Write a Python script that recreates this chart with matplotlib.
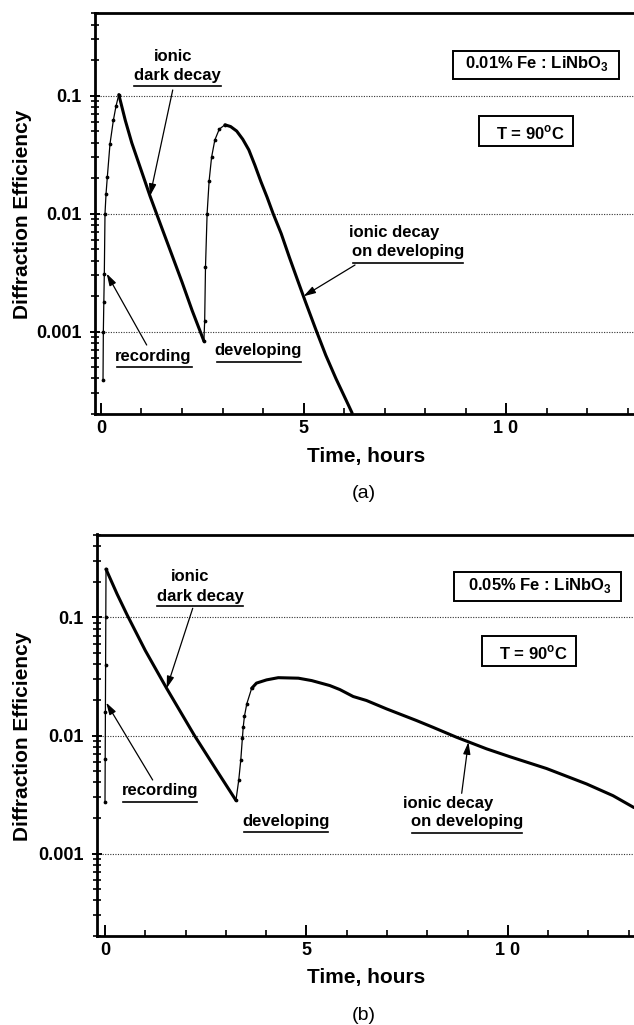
import matplotlib
matplotlib.use("Agg")
import matplotlib.pyplot as plt
from matplotlib.patches import Rectangle
from matplotlib.ticker import FixedLocator, LogLocator, NullFormatter

# ---- data (time in hours, diffraction efficiency) ----
# (a) 0.01% Fe : LiNbO3
rec_a_t = [0.05, 0.058, 0.07, 0.082, 0.099, 0.125, 0.156, 0.222, 0.305, 0.37, 0.44]
rec_a_eta = [3.9e-4, 1.0e-3, 1.78e-3, 3.09e-3, 1.0e-2, 1.48e-2, 2.04e-2, 3.89e-2, 6.17e-2, 8.13e-2, 0.102]

dark_a_t = [0.44, 0.6, 0.76, 1.0, 1.21, 1.5, 1.75, 2.0, 2.25, 2.54]
dark_a_eta = [0.102, 0.0617, 0.0398, 0.0229, 0.0141, 0.00759, 0.00447, 0.00263, 0.00151, 0.000832]

dev_a_t = [2.54, 2.56, 2.58, 2.62, 2.67, 2.73, 2.81, 2.92, 3.06]
dev_a_eta = [8.3e-4, 1.23e-3, 3.5e-3, 1.0e-2, 1.9e-2, 3.0e-2, 4.2e-2, 5.2e-2, 5.66e-2]

ion_a_t = [3.06, 3.2, 3.35, 3.5, 3.65, 3.8, 3.95, 4.1, 4.25, 4.45, 4.65, 4.85, 5.05,
           5.3, 5.55, 5.8, 6.05, 6.2]
ion_a_eta = [0.0566, 0.0547, 0.0501, 0.0427, 0.0347, 0.0257, 0.0186, 0.0138, 0.0100,
             0.00676, 0.00427, 0.00275, 0.00178, 0.00105, 0.00063, 0.00040, 0.000263, 0.000204]

# (b) 0.05% Fe : LiNbO3
rec_b_t = [0.0, 0.005, 0.01, 0.015, 0.02, 0.025]
rec_b_eta = [2.75e-3, 6.3e-3, 1.58e-2, 3.98e-2, 0.1, 0.257]

dark_b_t = [0.025, 0.3, 0.55, 1.0, 1.53, 2.22, 2.78, 3.25]
dark_b_eta = [0.257, 0.158, 0.105, 0.0525, 0.0251, 0.0100, 0.00501, 0.00282]

dev_b_t = [3.25, 3.32, 3.37, 3.41, 3.43, 3.46, 3.52, 3.64]
dev_b_eta = [2.82e-3, 4.2e-3, 6.2e-3, 9.5e-3, 1.17e-2, 1.45e-2, 1.86e-2, 2.51e-2]

ion_b_t = [3.64, 3.76, 4.01, 4.30, 4.80, 5.13, 5.58, 5.83, 6.16, 6.49, 6.99, 7.73, 8.15,
           8.72, 9.47, 10.05, 10.96, 11.95, 12.61, 13.13]
ion_b_eta = [0.0251, 0.0278, 0.0296, 0.0309, 0.0306, 0.0292, 0.0265, 0.0245, 0.0214, 0.0198,
             0.0168, 0.0134, 0.0117, 0.00968, 0.00771, 0.00661, 0.00525, 0.00389, 0.00309, 0.00245]

ytick_vals = [1e-3, 1e-2, 1e-1]
ytick_labels = ["0.001", "0.01", "0.1"]
xtick_vals = [0, 5, 10]
xtick_labels = ["0", "5", "1 0"]

plt.rcParams["font.family"] = ["Liberation Sans", "DejaVu Sans"]
plt.rcParams["font.weight"] = "bold"
plt.rcParams["mathtext.fontset"] = "custom"
plt.rcParams["mathtext.rm"] = "Liberation Sans:bold"
plt.rcParams["mathtext.bf"] = "Liberation Sans:bold"

W, H = 634, 1025
fig = plt.figure(figsize=(W / 100, H / 100), dpi=100)
ax_a = fig.add_axes([95 / W, 1 - 414 / H, 539 / W, 401.3 / H])
ax_b = fig.add_axes([96.7 / W, 1 - 936 / H, 537.3 / W, 401.5 / H])


def setup_axes(ax, xlim):
    ax.set_yscale("log")
    ax.set_xlim(*xlim)
    ax.set_ylim(2.0e-4, 0.505)
    ax.yaxis.set_major_locator(FixedLocator(ytick_vals))
    ax.set_yticklabels(ytick_labels)
    ax.yaxis.set_minor_locator(LogLocator(base=10, subs=range(2, 10)))
    ax.yaxis.set_minor_formatter(NullFormatter())
    ax.set_xticks(xtick_vals)
    ax.set_xticklabels(xtick_labels)
    ax.set_xticks(range(0, 14), minor=True)
    ax.tick_params(axis="y", which="major", direction="inout", length=7, width=1.4,
                   labelsize=13, pad=6, right=False)
    ax.tick_params(axis="y", which="minor", direction="inout", length=6, width=1.2, right=False)
    ax.tick_params(axis="x", which="major", direction="in", length=8, width=1.4,
                   labelsize=13, pad=4, top=False)
    ax.tick_params(axis="x", which="minor", direction="in", length=4, width=1.2, top=False)
    for lab in ax.get_xticklabels() + ax.get_yticklabels():
        lab.set_fontweight("bold")
    ax.spines["right"].set_visible(False)
    for s in ("left", "bottom", "top"):
        ax.spines[s].set_linewidth(2)
    ax.grid(True, which="major", axis="y", color="0.2", lw=0.8, ls=(0, (1, 1.3)))
    ax.grid(False, which="minor")
    ax.grid(False, axis="x")


def curve(ax, t, eta, thick):
    if thick:
        ax.plot(t, eta, color="k", lw=2.2, solid_capstyle="round",
                solid_joinstyle="round", zorder=3)
    else:
        ax.plot(t, eta, color="k", lw=0.9, marker="o", ms=1.7, zorder=3)


def label(ax, fx, fy, s, size=12):
    ax.text(fx, fy, s, transform=ax.transAxes, ha="center", va="center",
            fontsize=size, fontweight="bold", zorder=4)


def underline(ax, x0, x1, fy):
    ax.plot([x0, x1], [fy, fy], transform=ax.transAxes, color="k", lw=1.2,
            clip_on=False, zorder=4)


def arrow(ax, tip, start):
    ax.annotate("", xy=tip, xycoords="data", xytext=start, textcoords="axes fraction",
                arrowprops=dict(arrowstyle="-|>,head_length=0.6,head_width=0.18",
                                lw=0.9, color="k", shrinkA=0, shrinkB=0,
                                mutation_scale=12), zorder=4)


def box(ax, x0, x1, y0, y1):
    ax.add_patch(Rectangle((x0, y0), x1 - x0, y1 - y0, transform=ax.transAxes,
                           fill=False, lw=1.4, ec="k", zorder=4))


# ---------------- panel (a) ----------------
setup_axes(ax_a, (-0.148, 13.16))
curve(ax_a, rec_a_t, rec_a_eta, False)
curve(ax_a, dark_a_t, dark_a_eta, True)
curve(ax_a, dev_a_t, dev_a_eta, False)
curve(ax_a, ion_a_t, ion_a_eta, True)

label(ax_a, 0.1453, 0.8921, "ionic")
label(ax_a, 0.1527, 0.8423, "dark decay")
underline(ax_a, 0.0724, 0.2332, 0.8173)
arrow(ax_a, (1.21, 0.0141), (0.1442, 0.8074))

label(ax_a, 0.1082, 0.1428, "recording")
underline(ax_a, 0.0403, 0.1794, 0.1179)
arrow(ax_a, (0.14, 0.0031), (0.0959, 0.1719))

label(ax_a, 0.3030, 0.1570, "developing")
underline(ax_a, 0.2258, 0.3816, 0.1303)

label(ax_a, 0.5553, 0.4518, "ionic decay")
label(ax_a, 0.5813, 0.4044, "on developing")
underline(ax_a, 0.4792, 0.6833, 0.3755)
arrow(ax_a, (5.0, 0.00199), (0.4824, 0.3713))

box(ax_a, 0.6636, 0.9722, 0.8348, 0.9053)
label(ax_a, 0.8200, 0.8739, "0.01% Fe : LiNbO$_\\mathbf{3}$")
box(ax_a, 0.7130, 0.8874, 0.6686, 0.7426)
label(ax_a, 0.8085, 0.6995, "T = 90$^\\mathbf{o}$C")

# ---------------- panel (b) ----------------
setup_axes(ax_b, (-0.206, 13.13))
curve(ax_b, rec_b_t, rec_b_eta, False)
curve(ax_b, dark_b_t, dark_b_eta, True)
curve(ax_b, dev_b_t, dev_b_eta, False)
curve(ax_b, ion_b_t, ion_b_eta, True)

label(ax_b, 0.1736, 0.8966, "ionic")
label(ax_b, 0.1923, 0.8468, "dark decay")
underline(ax_b, 0.1117, 0.2728, 0.8219)
arrow(ax_b, (1.53, 0.0251), (0.1787, 0.8162))

label(ax_b, 0.1178, 0.3619, "recording")
underline(ax_b, 0.0484, 0.1861, 0.3345)
arrow(ax_b, (0.03, 0.019), (0.1042, 0.3885))

label(ax_b, 0.3529, 0.2847, "developing")
underline(ax_b, 0.2747, 0.4311, 0.2598)

label(ax_b, 0.6544, 0.3305, "ionic decay")
label(ax_b, 0.6886, 0.2847, "on developing")
underline(ax_b, 0.5874, 0.7910, 0.2573)
arrow(ax_b, (9.02, 0.0088), (0.6793, 0.3554))

box(ax_b, 0.6655, 0.9753, 0.8351, 0.9059)
label(ax_b, 0.8260, 0.8742, "0.05% Fe : LiNbO$_\\mathbf{3}$")
box(ax_b, 0.7165, 0.8920, 0.6725, 0.7472)
label(ax_b, 0.8120, 0.7041, "T = 90$^\\mathbf{o}$C")

# ---------------- axis titles and panel letters ----------------
for yc, xl_y, letter, letter_y in ((214, 456.7, "(a)", 493), (736.7, 978, "(b)", 1015)):
    fig.text(23 / W, 1 - yc / H, "Diffraction Efficiency", rotation=90, ha="center",
             va="center", fontsize=15, fontweight="bold")
    fig.text(366 / W, 1 - xl_y / H, "Time, hours", ha="center", va="center",
             fontsize=15, fontweight="bold")
    fig.text(364 / W, 1 - letter_y / H, letter, ha="center", va="center",
             fontsize=14, fontweight="normal")

fig.savefig("out.png", dpi=100)
